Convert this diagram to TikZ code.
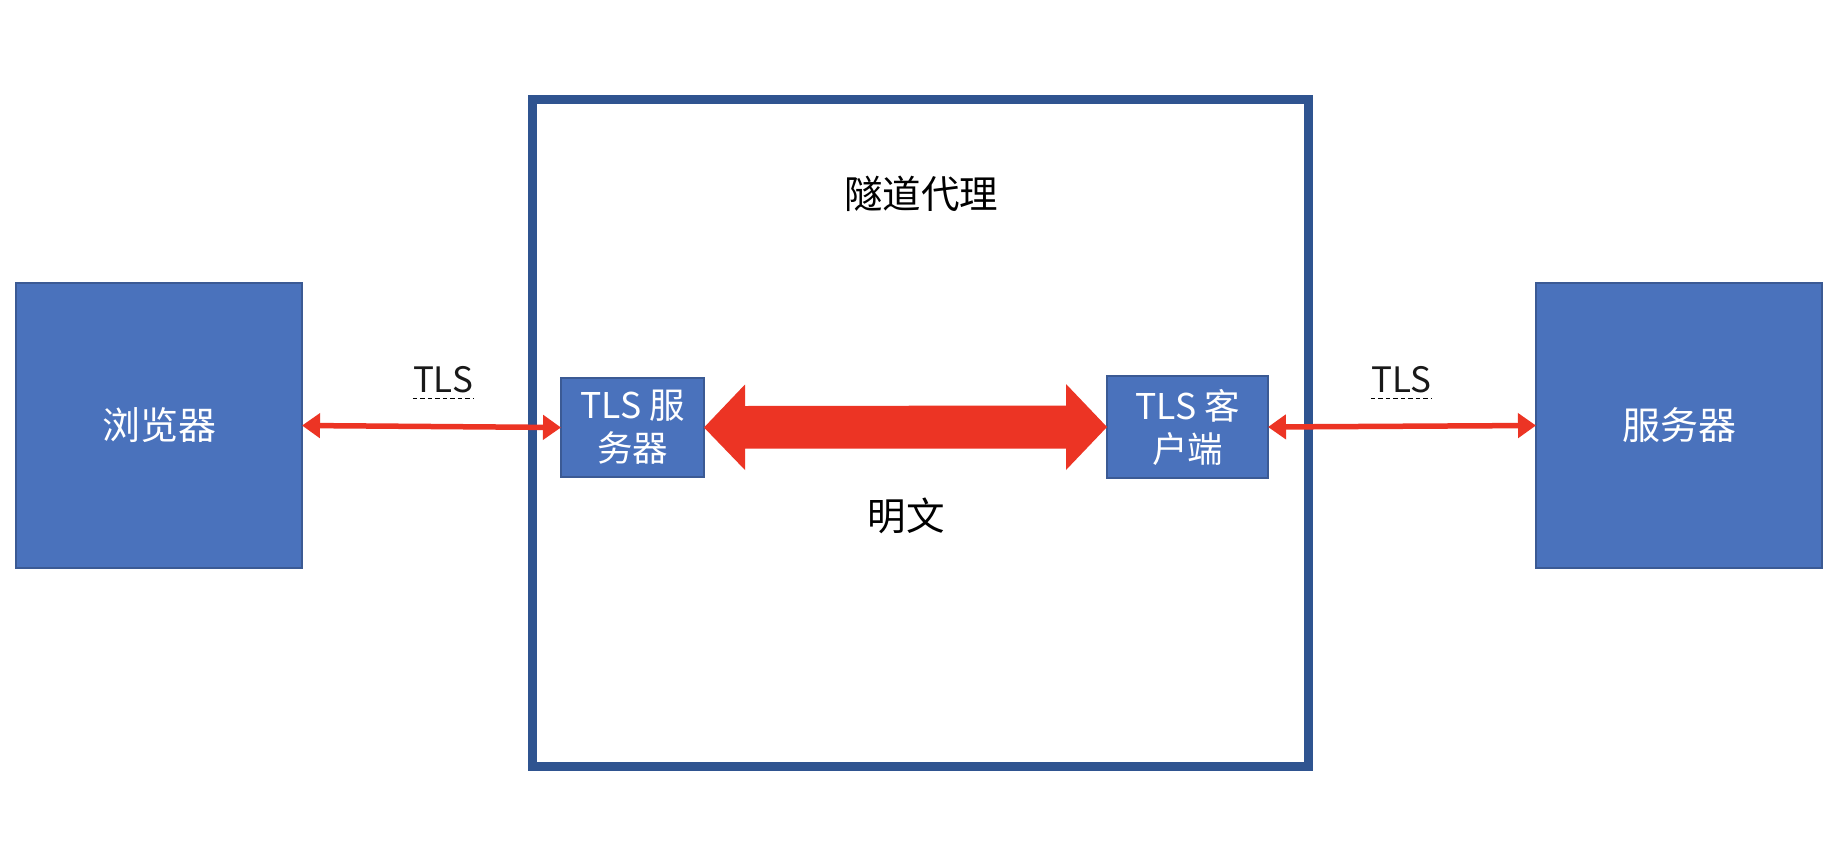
\documentclass[tikz,border=0pt]{standalone}
\usepackage{fontspec}
\setmainfont{Noto Sans CJK SC}
\usetikzlibrary{arrows.meta,calc}
\definecolor{boxblue}{HTML}{4A72BC}
\definecolor{boxedge}{HTML}{3B5A94}
\definecolor{frameblue}{HTML}{2F5490}
\definecolor{arrred}{HTML}{EC3424}
\begin{document}
\begin{tikzpicture}[x=1pt,y=-1pt,
  bigbox/.style={draw=boxedge, fill=boxblue, line width=1.3pt, text=white, outer sep=0pt,
    font=\fontsize{38}{44}\selectfont},
  smallbox/.style={draw=boxedge, fill=boxblue, line width=1.3pt, text=white, outer sep=0pt,
    align=center, inner sep=0pt, font=\fontsize{35.5}{43}\selectfont},
  lbl/.style={text=black, font=\fontsize{38.5}{44}\selectfont},
  tlslbl/.style={text=black!90, inner sep=0pt, anchor=base, font=\fontsize{35}{44}\selectfont},
  thinarrow/.style={draw=arrred, line width=5.5pt,
    {Triangle[length=18pt,width=24pt]}-{Triangle[length=18pt,width=24pt]}}
]
\useasboundingbox (0,0) rectangle (1840,846);
\fill[white] (0,0) rectangle (1840,846);

% tunnel proxy frame
\node[draw=frameblue, line width=9pt, minimum width=776pt, minimum height=667pt, inner sep=0pt] (proxy) at (920.5,433) {};
\node[lbl] (title) at (921,194) {隧道代理};
\node[lbl] (plain) at (906,516) {明文};

% outer boxes
\node[bigbox, minimum width=286pt, minimum height=285pt] (br) at (159,425.5) {浏览器};
\node[bigbox, minimum width=286pt, minimum height=285pt] (sv) at (1679,425.5) {服务器};

% inner boxes
\node[smallbox, minimum width=143pt, minimum height=99pt] (srv) at (632.5,427.5) {TLS 服\\务器};
\node[smallbox, minimum width=161pt, minimum height=102pt] (cli) at (1187.5,427) {TLS 客\\户端};

% thin arrows
\draw[thinarrow] (br.east) -- (srv.west);
\draw[thinarrow] (cli.east) -- (sv.west);

% big double arrow
\fill[arrred] (srv.east) -- ++(41,-43) -- ++(0,21.5) -- ($(cli.west)+(-41,-21.5)$)
  -- ++(0,-21.5) -- (cli.west) -- ++(-41,43) -- ++(0,-21.5)
  -- ($(srv.east)+(41,21)$) -- ++(0,21.5) -- cycle;

% TLS labels
\node[tlslbl] (tlsl) at (443,392) {TLS};
\node[tlslbl] (tlsr) at (1401,392) {TLS};
\draw[black, line width=1.6pt, dash pattern=on 4.5pt off 3pt]
  ($(tlsl.base west)+(0,6.5)$) -- ($(tlsl.base east)+(0,6.5)$);
\draw[black, line width=1.6pt, dash pattern=on 4.5pt off 3pt]
  ($(tlsr.base west)+(0,6.5)$) -- ($(tlsr.base east)+(0,6.5)$);
\end{tikzpicture}
\end{document}
